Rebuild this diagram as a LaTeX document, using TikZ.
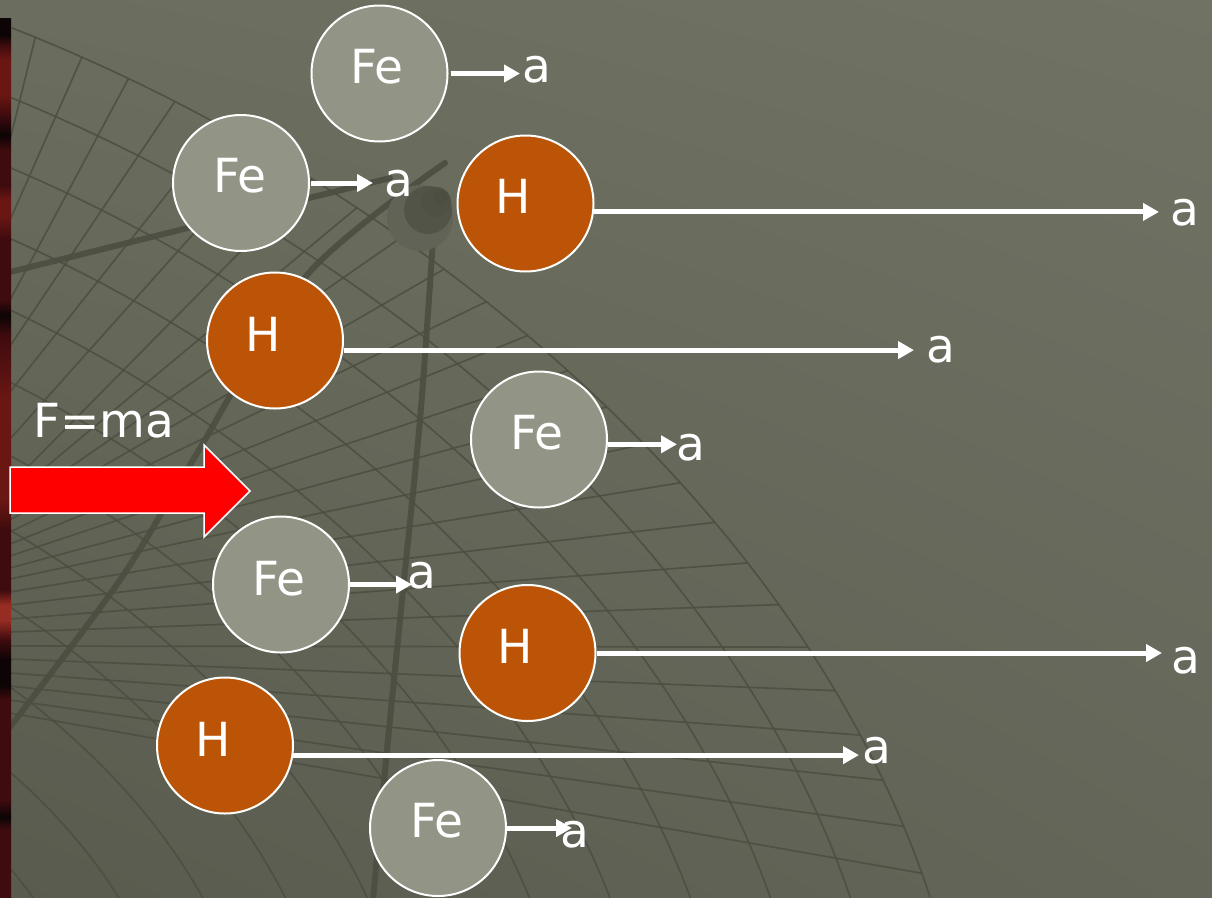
\documentclass[tikz,border=0pt]{standalone}
\usepackage{fontspec}
\setmainfont{DejaVu Sans}
\usetikzlibrary{arrows.meta,calc,shadings}

\definecolor{bgUL}{HTML}{6B6D5E}
\definecolor{bgUR}{HTML}{707264}
\definecolor{bgLL}{HTML}{595B4E}
\definecolor{bgLR}{HTML}{646659}
\definecolor{gridc}{HTML}{4C4E42}
\definecolor{feFill}{HTML}{929586}
\definecolor{hFill}{HTML}{BB5407}
\definecolor{sK}{HTML}{0C0405}
\definecolor{sD}{HTML}{3E0B0E}
\definecolor{sR}{HTML}{6A1713}
\definecolor{sB}{HTML}{962C22}

\tikzset{
  fe/.style={circle, draw=white, line width=2pt, fill=feFill, minimum size=136pt, inner sep=0pt},
  hy/.style={circle, draw=white, line width=2pt, fill=hFill, minimum size=136pt, inner sep=0pt},
  lbl/.style={text=white, font=\fontsize{47}{56}\selectfont, anchor=base, inner sep=0pt},
  vec/.style={draw=white, line width=5pt, -{Triangle[length=16pt,width=17pt]}},
  gridline/.style={draw=gridc, line width=1.7pt, opacity=0.85},
  axisline/.style={draw=gridc, line width=6pt, opacity=0.9, line cap=round}
}

\begin{document}
\begin{tikzpicture}[x=1pt,y=-1pt]
\useasboundingbox (0,0) rectangle (1212,897);

% backdrop
\shade[upper left=bgUL, upper right=bgUR, lower left=bgLL, lower right=bgLR]
  (0,0) rectangle (1212,897);

% globe grid: rim curve, parallels scaled toward P, meridians from the left edge to the rim
\coordinate (B0) at (12,28);
\coordinate (B1) at (400,180);
\coordinate (B2) at (800,500);
\coordinate (B3) at (930,897);
\coordinate (P) at (-350,1050);
\begin{scope}
  \clip (11,0) rectangle (1212,897);
  \foreach \s in {0.34,0.40,0.46,0.52,0.58,0.64,0.70,0.76,0.82,0.88,0.94,1.00} {
    \draw[gridline] ($(P)!\s!(B0)$) .. controls ($(P)!\s!(B1)$) and ($(P)!\s!(B2)$) .. ($(P)!\s!(B3)$);
  }
  \foreach \t/\yl in {0.02/140, 0.06/220, 0.10/300, 0.14/346, 0.18/392, 0.22/439, 0.26/485,
      0.30/497, 0.34/509, 0.38/520, 0.42/532, 0.46/544, 0.50/556, 0.54/568, 0.58/579,
      0.62/592, 0.66/605, 0.70/619, 0.74/632, 0.78/646, 0.82/659, 0.86/673, 0.90/686,
      0.94/700, 0.98/713} {
    \path (B0) .. controls (B1) and (B2) .. (B3) coordinate[pos=\t] (bt);
    \coordinate (lt) at (10,\yl);
    \draw[gridline] (lt) -- (bt);
  }
  % heavier axis lines
  \draw[axisline] (10,272) -- (390,178);
  \draw[axisline] plot[smooth] coordinates {(445,163) (307,275) (193,460) (120,580) (10,727)};
  \draw[axisline] plot[smooth] coordinates {(433,240) (420,420) (402,600) (387,750) (373,900)};
  % pole knob
  \fill[color=bgLL!95!white] (420,218) circle[radius=33];
  \fill[color=gridc!55!bgLL] (428,210) circle[radius=24];
  \fill[color=gridc!75!bgLL] (436,202) circle[radius=15];
  \fill[color=gridc] (441,197) circle[radius=7];
\end{scope}

% left edge strip
\foreach \ya/\ca/\yb/\cb in {18/sK/35/sK, 35/sK/45/sD, 45/sD/60/sR, 60/sR/95/sR, 95/sR/115/sD, 115/sD/135/sK,
  135/sK/150/sD, 150/sD/185/sD, 185/sD/200/sR, 200/sR/215/sR, 215/sR/240/sD, 240/sD/300/sD, 300/sD/315/sK,
  315/sK/335/sD, 335/sD/400/sR, 400/sR/500/sR, 500/sR/530/sD, 530/sD/590/sD, 590/sD/605/sB, 605/sB/620/sB,
  620/sB/640/sD, 640/sD/660/sK, 660/sK/685/sK, 685/sK/700/sD, 700/sD/800/sD, 800/sD/817/sK, 817/sK/830/sD,
  830/sD/897/sD} {
  \shade[top color=\ca, bottom color=\cb] (0,\ya) rectangle (11,\yb);
}

% force arrow
\draw[fill=red, draw=white, line width=1.5pt, line join=miter]
  (10,467) -- (204,467) -- (204,445) -- (250,491) -- (204,537) -- (204,513) -- (10,513) -- cycle;
\node[lbl] (law) at (104,437) {F=ma};

% particles
\node[fe] (Fe1) at (379.5,73.5) {};
\node[fe] (Fe2) at (241,183) {};
\node[hy] (H1)  at (525.5,203.5) {};
\node[hy] (H2)  at (275,340.5) {};
\node[fe] (Fe3) at (539,439.5) {};
\node[fe] (Fe4) at (281,584.5) {};
\node[hy] (H3)  at (527.5,653) {};
\node[hy] (H4)  at (225,745.5) {};
\node[fe] (Fe5) at (438,828) {};

\node[lbl] (tFe1) at (377,83) {Fe};
\node[lbl] (tFe2) at (240,192) {Fe};
\node[lbl] (tH1)  at (513.5,213) {H};
\node[lbl] (tH2)  at (263,351) {H};
\node[lbl] (tFe3) at (537,449.5) {Fe};
\node[lbl] (tFe4) at (279,595) {Fe};
\node[lbl] (tH3)  at (515,663) {H};
\node[lbl] (tH4)  at (213.5,756) {H};
\node[lbl] (tFe5) at (437,837) {Fe};

% acceleration labels
\node[lbl] (aFe1) at (536.5,82) {a};
\node[lbl] (aFe2) at (398.5,196) {a};
\node[lbl] (aH1)  at (1185,225) {a};
\node[lbl] (aH2)  at (941,362) {a};
\node[lbl] (aFe3) at (691,460) {a};
\node[lbl] (aFe4) at (421.5,588) {a};
\node[lbl] (aH3)  at (1185.5,673) {a};
\node[lbl] (aH4)  at (876.5,763) {a};
\node[lbl] (aFe5) at (575,847) {a};

% arrow tips
\coordinate (kFe1) at (520,0);
\coordinate (kFe2) at (373,0);
\coordinate (kH1)  at (1159,0);
\coordinate (kH2)  at (914,0);
\coordinate (kFe3) at (677,0);
\coordinate (kFe4) at (412,0);
\coordinate (kH3)  at (1162,0);
\coordinate (kH4)  at (859,0);
\coordinate (kFe5) at (572,0);

\draw[vec] ([xshift=2pt]Fe1.east) -- (Fe1.east -| kFe1);
\draw[vec] ([xshift=1pt]Fe2.east) -- (Fe2.east -| kFe2);
\draw[vec] (H1.-7.5) -- (H1.-7.5 -| kH1);
\draw[vec] ([xshift=1pt]H2.-8.3) -- (H2.-8.3 -| kH2);
\draw[vec] (Fe3.-4.6) -- (Fe3.-4.6 -| kFe3);
\draw[vec] (Fe4.east) -- (Fe4.east -| kFe4);
\draw[vec] (H3.east) -- (H3.east -| kH3);
\draw[vec] (H4.-8.75) -- (H4.-8.75 -| kH4);
\draw[vec] (Fe5.east) -- (Fe5.east -| kFe5);
\end{tikzpicture}
\end{document}
